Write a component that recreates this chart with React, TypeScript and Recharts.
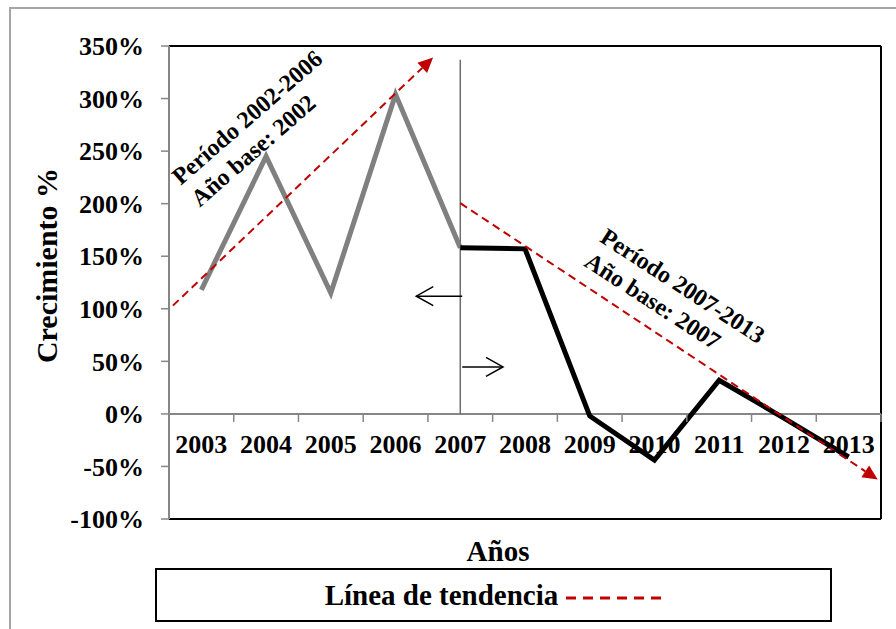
import React from "react";
import {
  LineChart,
  Line,
  XAxis,
  YAxis,
  ReferenceLine,
  ReferenceDot,
  Legend,
} from "recharts";

const FONT = '"Liberation Serif", "Times New Roman", serif';
const ROJO = "#c00000";
const GRIS_EJE = "#868686";

const anios = ["2003", "2004", "2005", "2006", "2007", "2008", "2009", "2010", "2011", "2012", "2013"];
// crecimiento % respecto al año base
const crecimientoBase2002 = [118, 245, 115, 304, 158]; // 2003-2007
const crecimientoBase2007 = [158, 157, -2, -44, 32, -4, -41]; // 2007-2013
const ticksY = [-100, -50, 0, 50, 100, 150, 200, 250, 300, 350];

// líneas de tendencia (trazadas a mano en el original), en unidades de los ejes
const tendencia1X = [0.06, 4.08];
const tendencia1Y = [103, 339];
const tendencia2X = [4.5, 10.95];
const tendencia2Y = [200.5, -62.5];

// separación de los dos períodos y sus flechas
const corteX = 4.5;
const corteY = [0, 337];
const flechaIzqX = [4.53, 3.82];
const flechaIzqY = 112;
const flechaDerX = [4.53, 5.16];
const flechaDerY = 44.7;

const notas = [
  { x: 0.18, y: 217, angulo: -41, lineas: ["Período 2002-2006", "Año base: 2002"] },
  { x: 6.64, y: 164.5, angulo: 33, lineas: ["Período 2007-2013", "Año base: 2007"] },
];

const inicio2007 = anios.indexOf("2007");
const serie2002 = crecimientoBase2002.map((v, i) => ({ x: i + 0.5, v }));
const serie2007 = crecimientoBase2007.map((v, i) => ({ x: inicio2007 + i + 0.5, v }));
const limites = [...anios.map((_, i) => i), anios.length];

const FlechaTendencia = (p: any) => {
  const { x1, y1, x2, y2 } = p;
  const a = Math.atan2(y2 - y1, x2 - x1);
  const c = Math.cos(a);
  const s = Math.sin(a);
  const bx = x2 - 15 * c;
  const by = y2 - 15 * s;
  return (
    <g>
      <line x1={x1} y1={y1} x2={bx} y2={by} stroke={ROJO} strokeWidth={2} strokeDasharray="8 5" />
      <polygon
        points={`${x2},${y2} ${bx - 7 * s},${by + 7 * c} ${bx + 7 * s},${by - 7 * c}`}
        fill={ROJO}
      />
    </g>
  );
};

const FlechaAbierta = (p: any) => {
  const { x1, y1, x2, y2 } = p;
  const a = Math.atan2(y2 - y1, x2 - x1);
  const c = Math.cos(a);
  const s = Math.sin(a);
  const bx = x2 - 17 * c;
  const by = y2 - 17 * s;
  return (
    <g fill="none" stroke="#000" strokeWidth={1.5}>
      <line x1={x1} y1={y1} x2={x2} y2={y2} />
      <polyline points={`${bx - 9.5 * s},${by + 9.5 * c} ${x2},${y2} ${bx + 9.5 * s},${by - 9.5 * c}`} />
    </g>
  );
};

const TituloY = (props: any) => {
  const vb = props.viewBox;
  const x = vb.x + 48;
  const y = vb.y + vb.height / 2 - 17;
  return (
    <text
      x={x}
      y={y}
      transform={`rotate(-90 ${x} ${y})`}
      textAnchor="middle"
      fontFamily={FONT}
      fontWeight="bold"
      fontSize={30}
      fill="#000"
    >
      Crecimiento %
    </text>
  );
};

const TituloX = (props: any) => {
  const vb = props.viewBox;
  return (
    <text
      x={vb.x + vb.width / 2 - 27}
      y={vb.y + 42}
      textAnchor="middle"
      fontFamily={FONT}
      fontWeight="bold"
      fontSize={29}
      fill="#000"
    >
      Años
    </text>
  );
};

const Leyenda = () => (
  <div
    style={{
      boxSizing: "border-box",
      width: 677,
      height: 54,
      border: "2px solid #000",
      background: "#fff",
      display: "flex",
      alignItems: "center",
      justifyContent: "center",
      fontFamily: FONT,
      fontWeight: "bold",
      fontSize: 29,
      color: "#000",
    }}
  >
    <span>Línea de tendencia</span>
    <svg width={96} height={10} style={{ marginLeft: 8, marginTop: 6 }}>
      <line x1={0} y1={5} x2={96} y2={5} stroke={ROJO} strokeWidth={3} strokeDasharray="10 7" />
    </svg>
  </div>
);

export default function App() {
  return (
    <div style={{ position: "absolute", left: 0, top: 0, width: 896, height: 629, overflow: "hidden", background: "#fff" }}>
      <div
        style={{
          position: "absolute",
          left: 9,
          top: 7,
          width: 1000,
          height: 1000,
          border: "2px solid #a6a6a6",
        }}
      />
      <LineChart width={896} height={629} margin={{ top: 46, right: 15, bottom: 60, left: 9 }}>
        <XAxis
          type="number"
          dataKey="x"
          domain={[0, anios.length]}
          tick={false}
          tickLine={false}
          axisLine={false}
          height={50}
          label={{ content: TituloX }}
        />
        <YAxis
          type="number"
          domain={[-100, 350]}
          ticks={ticksY}
          interval={0}
          width={160}
          tickFormatter={(v) => `${v}%`}
          tick={{ fill: "#000", fontSize: 26, fontWeight: "bold", fontFamily: FONT }}
          tickSize={8}
          tickMargin={17}
          axisLine={{ stroke: GRIS_EJE, strokeWidth: 2 }}
          tickLine={{ stroke: GRIS_EJE, strokeWidth: 1.5 }}
          label={{ content: TituloY }}
        />
        <Legend
          content={Leyenda}
          layout="horizontal"
          verticalAlign="middle"
          align="center"
          wrapperStyle={{ left: 155, top: 568, width: 677, height: 54 }}
        />

        {/* borde del área de trazado */}
        <ReferenceLine y={350} stroke="#000" strokeWidth={2} ifOverflow="visible" />
        <ReferenceLine y={-100} stroke="#000" strokeWidth={2} ifOverflow="visible" />
        <ReferenceLine x={anios.length} stroke="#000" strokeWidth={2} ifOverflow="visible" />

        {/* eje de categorías cruzando en 0% */}
        <ReferenceLine y={0} stroke={GRIS_EJE} strokeWidth={2} ifOverflow="visible" />
        {limites.map((b) => (
          <ReferenceDot
            key={`t${b}`}
            x={b}
            y={0}
            r={1}
            ifOverflow="visible"
            shape={(p: any) => <line x1={p.cx} y1={p.cy} x2={p.cx} y2={p.cy + 8} stroke={GRIS_EJE} strokeWidth={1.5} />}
          />
        ))}
        {anios.map((a, i) => (
          <ReferenceDot
            key={a}
            x={i + 0.5}
            y={0}
            r={1}
            ifOverflow="visible"
            shape={(p: any) => (
              <text
                x={p.cx}
                y={p.cy + 31}
                textAnchor="middle"
                dominantBaseline="central"
                fontFamily={FONT}
                fontWeight="bold"
                fontSize={26}
                fill="#000"
              >
                {a}
              </text>
            )}
          />
        ))}

        <ReferenceLine
          segment={[{ x: corteX, y: corteY[0] }, { x: corteX, y: corteY[1] }]}
          stroke="#6e6e6e"
          strokeWidth={1.5}
          ifOverflow="visible"
        />

        <Line data={serie2002} dataKey="v" type="linear" stroke="#808080" strokeWidth={5} dot={false} isAnimationActive={false} />
        <Line data={serie2007} dataKey="v" type="linear" stroke="#000" strokeWidth={5} dot={false} isAnimationActive={false} />

        <ReferenceLine
          segment={[{ x: tendencia1X[0], y: tendencia1Y[0] }, { x: tendencia1X[1], y: tendencia1Y[1] }]}
          shape={FlechaTendencia}
          ifOverflow="visible"
        />
        <ReferenceLine
          segment={[{ x: tendencia2X[0], y: tendencia2Y[0] }, { x: tendencia2X[1], y: tendencia2Y[1] }]}
          shape={FlechaTendencia}
          ifOverflow="visible"
        />
        <ReferenceLine
          segment={[{ x: flechaIzqX[0], y: flechaIzqY }, { x: flechaIzqX[1], y: flechaIzqY }]}
          shape={FlechaAbierta}
          ifOverflow="visible"
        />
        <ReferenceLine
          segment={[{ x: flechaDerX[0], y: flechaDerY }, { x: flechaDerX[1], y: flechaDerY }]}
          shape={FlechaAbierta}
          ifOverflow="visible"
        />

        {notas.map((n) => (
          <ReferenceDot
            key={n.lineas[0]}
            x={n.x}
            y={n.y}
            r={1}
            ifOverflow="visible"
            shape={(p: any) => (
              <text
                x={p.cx}
                y={p.cy}
                transform={`rotate(${n.angulo} ${p.cx} ${p.cy})`}
                fontFamily={FONT}
                fontWeight="bold"
                fontSize={24}
                fill="#000"
              >
                {n.lineas.map((t, i) => (
                  <tspan key={t} x={p.cx} dy={i === 0 ? 0 : 29}>
                    {t}
                  </tspan>
                ))}
              </text>
            )}
          />
        ))}
      </LineChart>
    </div>
  );
}
